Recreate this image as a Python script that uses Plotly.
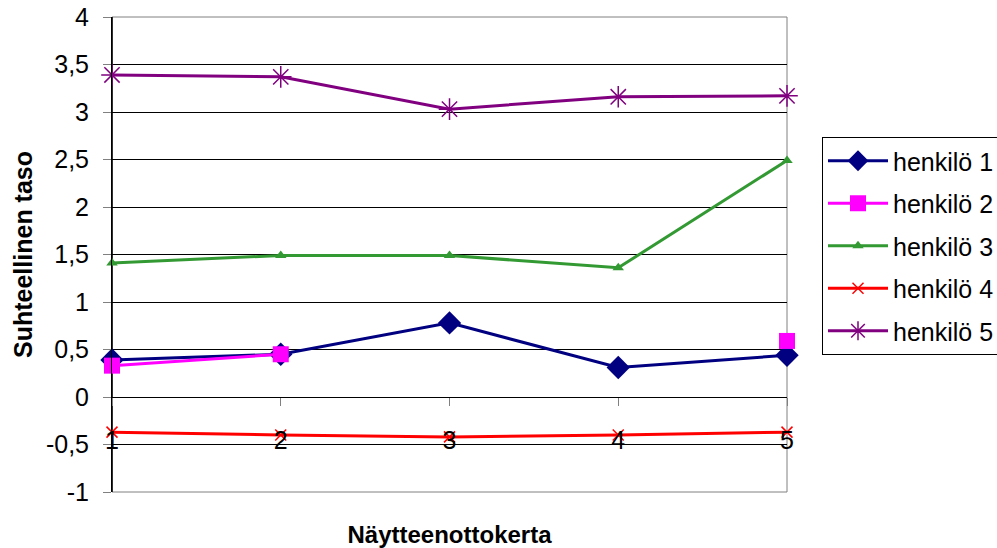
import plotly.graph_objects as go

# Measurement rounds (x) and relative level per person
rounds = [1, 2, 3, 4, 5]
henkilo_1 = [0.39, 0.45, 0.78, 0.31, 0.44]
henkilo_2 = [0.33, 0.45, None, None, 0.59]
henkilo_3 = [1.41, 1.49, 1.49, 1.36, 2.49]
henkilo_4 = [-0.37, -0.40, -0.42, -0.40, -0.37]
henkilo_5 = [3.39, 3.37, 3.03, 3.16, 3.17]

series_names = ["henkilö 1", "henkilö 2", "henkilö 3", "henkilö 4", "henkilö 5"]
y_ticks = [-1, -0.5, 0, 0.5, 1, 1.5, 2, 2.5, 3, 3.5, 4]
y_tick_labels = ["-1", "-0,5", "0", "0,5", "1", "1,5", "2", "2,5", "3", "3,5", "4"]
x_tick_labels = ["1", "2", "3", "4", "5"]

styles = [
    dict(color="#000080", symbol="diamond", size=18, line=dict(width=0)),
    dict(color="#FF00FF", symbol="square", size=16, line=dict(width=0)),
    dict(color="#339933", symbol="triangle-up", size=10, line=dict(width=0)),
    dict(color="#FF0000", symbol="x-thin-open", size=11, line=dict(width=1.5, color="#FF0000")),
    dict(color="#800080", symbol="asterisk-open", size=18, line=dict(width=1.5, color="#800080")),
]

fig = go.Figure()
for i, (name, vals, st) in enumerate(zip(series_names,
                                         [henkilo_1, henkilo_2, henkilo_3, henkilo_4, henkilo_5],
                                         styles)):
    fig.add_trace(go.Scatter(
        x=rounds, y=vals, name=name, mode="lines+markers",
        legendgroup=f"g{i}",
        line=dict(color=st["color"], width=3),
        marker=dict(symbol=st["symbol"], size=st["size"], color=st["color"],
                    line=st["line"]),
        cliponaxis=False,
    ))

font_family = "Liberation Sans, Arial, sans-serif"
y_min, y_max = -1, 4
zero_frac = (0 - y_min) / (y_max - y_min)

fig.update_layout(
    width=997, height=548,
    margin=dict(l=112, r=210, t=17, b=56),
    paper_bgcolor="white", plot_bgcolor="white",
    font=dict(family=font_family, color="black", size=25),
    separators=", ",
    showlegend=True,
    legend=dict(
        xref="container", yref="container",
        x=822 / 997, y=1 - 137 / 548, xanchor="left", yanchor="top",
        bordercolor="black", borderwidth=1, bgcolor="white",
        font=dict(size=25, family=font_family),
        tracegroupgap=7, itemwidth=60,
    ),
    xaxis=dict(
        range=[1, 5], tickvals=rounds, ticktext=x_tick_labels,
        showgrid=False, zeroline=False, automargin=False,
        showline=False, ticks="outside", ticklen=8, tickcolor="#808080",
        anchor="free", position=zero_frac,
        ticklabelstandoff=13,
        tickfont=dict(size=25),
        title=dict(text="<b>Näytteenottokerta</b>", font=dict(size=24), standoff=74),
    ),
    yaxis=dict(
        range=[y_min, y_max], tickvals=y_ticks, ticktext=y_tick_labels,
        showgrid=True, gridcolor="black", gridwidth=1, automargin=False,
        zeroline=True, zerolinecolor="black", zerolinewidth=1,
        showline=True, linecolor="black", linewidth=1,
        ticks="outside", ticklen=8, tickcolor="#808080",
        ticklabelstandoff=9,
        tickfont=dict(size=25),
        title=dict(text="<b>Suhteellinen taso</b>", font=dict(size=25), standoff=6),
    ),
    shapes=[
        dict(type="rect", xref="paper", yref="paper", x0=0, x1=1, y0=0, y1=1,
             line=dict(color="#808080", width=1), layer="below"),
        dict(type="line", xref="paper", yref="paper", x0=0, x1=0, y0=0, y1=1,
             line=dict(color="black", width=1.5), layer="below"),
    ],
)

fig.write_html("out.html")
